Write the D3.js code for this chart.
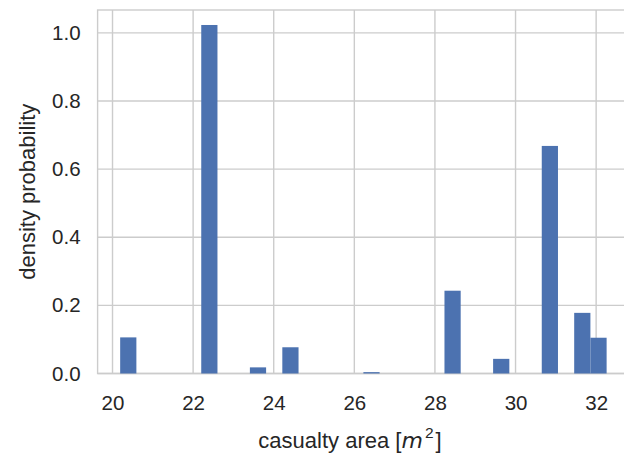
<!DOCTYPE html>
<html>
<head>
<meta charset="utf-8">
<script src="https://cdn.jsdelivr.net/npm/d3@7"></script>
<style>
  html, body { margin: 0; padding: 0; background: #ffffff; }
  svg { display: block; }
  text { font-family: "Liberation Sans", Arial, sans-serif; fill: #262626; }
</style>
</head>
<body>
<script>
// ---- data ----
const binStart = 20.19;          // left edge of first bin
const binEnd = 32.26;            // right edge of last bin
const densities = [
  0.106, 0, 0, 0, 0, 1.023, 0, 0, 0.018, 0,
  0.077, 0, 0, 0, 0, 0.004, 0, 0, 0, 0,
  0.243, 0, 0, 0.043, 0, 0, 0.668, 0, 0.178, 0.105
];
const xTicks = [20, 22, 24, 26, 28, 30, 32];
const yTicks = [0.0, 0.2, 0.4, 0.6, 0.8, 1.0];
const xLabel = "casualty area ";
const yLabel = "density probability";

(function () {
// ---- layout ----
const W = 624, H = 457;
const pL = 97.6, pR = 630.8, pT = 10, pB = 373.5;

const svg = d3.select("body").append("svg").attr("width", W).attr("height", H);

const x = d3.scaleLinear().domain([19.63, 32.86]).range([pL, pR]);
const y = d3.scaleLinear().domain([0, 1.067]).range([pB, pT]);

const nb = densities.length;
const bw = (binEnd - binStart) / nb;
const bins = densities.map((d, i) => ({x0: binStart + i * bw, x1: binStart + (i + 1) * bw, v: d}));

const grid = "#cccccc";

// grid
const g = svg.append("g");
g.selectAll("line.xg").data(xTicks).enter().append("line")
  .attr("x1", d => x(d)).attr("x2", d => x(d)).attr("y1", pT).attr("y2", pB)
  .attr("stroke", grid).attr("stroke-width", 1.4);
g.selectAll("line.yg").data(yTicks).enter().append("line")
  .attr("x1", pL).attr("x2", pR).attr("y1", d => y(d)).attr("y2", d => y(d))
  .attr("stroke", grid).attr("stroke-width", 1.4);

// frame
svg.append("rect").attr("x", pL).attr("y", pT).attr("width", pR - pL).attr("height", pB - pT)
  .attr("fill", "none").attr("stroke", grid).attr("stroke-width", 1.4);

// bars
svg.append("g").selectAll("rect").data(bins.filter(b => b.v > 0)).enter().append("rect")
  .attr("x", d => x(d.x0)).attr("width", d => x(d.x1) - x(d.x0))
  .attr("y", d => y(d.v)).attr("height", d => y(0) - y(d.v))
  .attr("fill", "#4c72b0");

// axes
const xAxis = svg.append("g").attr("transform", `translate(0,${pB})`)
  .call(d3.axisBottom(x).tickValues(xTicks).tickFormat(d3.format("d")).tickSize(0).tickPadding(22));
const yAxis = svg.append("g").attr("transform", `translate(${pL},0)`)
  .call(d3.axisLeft(y).tickValues(yTicks).tickFormat(d3.format(".1f")).tickSize(0).tickPadding(17));
[xAxis, yAxis].forEach(a => {
  a.select(".domain").remove();
  a.selectAll("text").attr("font-size", 20.5).attr("fill", "#262626")
    .attr("font-family", "Liberation Sans, Arial, sans-serif");
});

// labels
const xl = svg.append("text").attr("x", 350).attr("y", 448).attr("text-anchor", "middle")
  .attr("font-size", 22);
xl.append("tspan").text(xLabel + "[");
xl.append("tspan").attr("font-style", "italic").attr("font-family", "DejaVu Sans").text("m");
xl.append("tspan").attr("font-size", 15.5).attr("dy", -10).attr("dx", 2).text("2");
xl.append("tspan").attr("dy", 10).attr("dx", 2).text("]");

svg.append("text").attr("transform", `translate(35,${(pT + pB) / 2}) rotate(-90)`)
  .attr("text-anchor", "middle").attr("font-size", 22).text(yLabel);
})();
</script>
</body>
</html>
